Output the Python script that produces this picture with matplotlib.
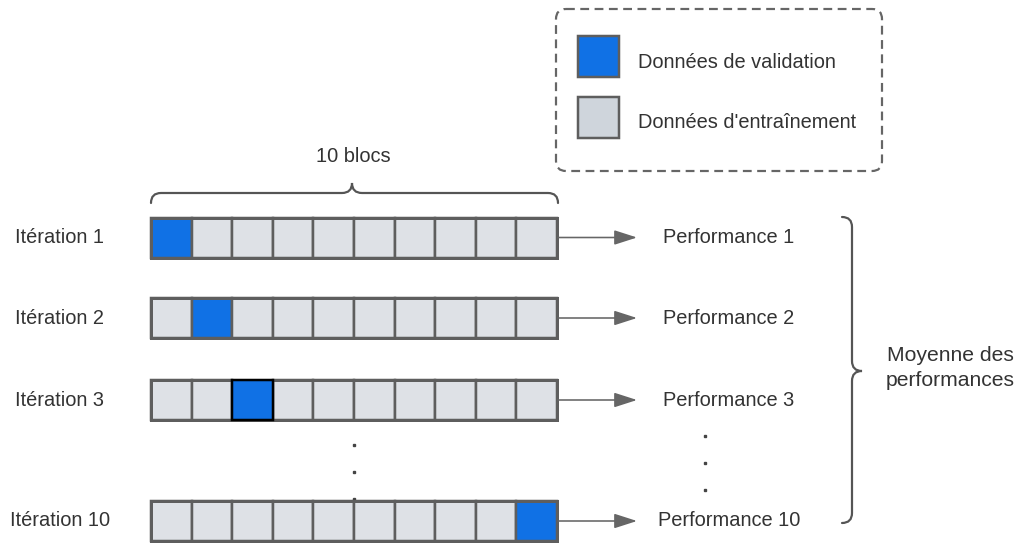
import matplotlib
matplotlib.use("Agg")
import matplotlib.pyplot as plt
from matplotlib.patches import Rectangle, FancyBboxPatch, PathPatch
from matplotlib.path import Path

plt.rcParams['font.family'] = ['Liberation Sans', 'DejaVu Sans']

# data
n_blocks = 10
iterations = [1, 2, 3, 10]
val_block = [0, 1, 2, 9]          # index of the validation block in each shown iteration
row_labels = ["Itération 1", "Itération 2", "Itération 3", "Itération 10"]
perf_labels = ["Performance 1", "Performance 2", "Performance 3", "Performance 10"]
legend_labels = ["Données de validation", "Données d'entraînement"]
top_label = "10 blocs"
side_label = "Moyenne des\nperformances"

blue = "#1071e5"
cell_gray = "#dee1e6"
leg_gray = "#cfd5dc"
edge = "#5e5e5e"
txt = "#333333"
px = 0.72  # one pixel in points at dpi 100

fig = plt.figure(figsize=(10.19, 5.45), dpi=100)
ax = fig.add_axes([0, 0, 1, 1])
ax.set_xlim(0, 1019)
ax.set_ylim(545, 0)
ax.axis("off")

bar_x0, bar_x1 = 151, 557
cell_w = (bar_x1 - bar_x0) / n_blocks
cell_h = 40
row_y = [237.5, 318, 400, 521]
fs = 14.4

for k, (yc, vb) in enumerate(zip(row_y, val_block)):
    for i in range(n_blocks):
        is_val = i == vb
        ec = "black" if (is_val and iterations[k] == 3) else edge
        ax.add_patch(Rectangle((bar_x0 + i * cell_w, yc - cell_h / 2), cell_w, cell_h,
                               facecolor=blue if is_val else cell_gray,
                               edgecolor=ec, lw=2.5 * px, zorder=3 if ec == "black" else 2))
    ax.add_patch(Rectangle((bar_x0, yc - cell_h / 2), bar_x1 - bar_x0, cell_h,
                           facecolor="none", edgecolor=edge, lw=3 * px, zorder=2.5))
    ax.text(60, yc, row_labels[k], ha="center", va="center", fontsize=fs, color=txt)
    ax.annotate("", xy=(637, yc), xytext=(bar_x1 + 1, yc),
                arrowprops=dict(arrowstyle="-|>,head_length=1.4,head_width=0.45",
                                color="#666666", lw=1.6 * px, shrinkA=0, shrinkB=0))
    ax.text(729, yc, perf_labels[k], ha="center", va="center", fontsize=fs, color=txt)

# ellipsis dots
for yd in [445, 472, 499]:
    ax.plot(354, yd, "s", ms=1.6, color="#444444")
for yd in [436, 463, 490]:
    ax.plot(705, yd, "s", ms=1.6, color="#444444")


def brace(pts):
    codes = [Path.MOVETO, Path.CURVE3, Path.CURVE3, Path.LINETO, Path.CURVE3, Path.CURVE3,
             Path.CURVE3, Path.CURVE3, Path.LINETO, Path.CURVE3, Path.CURVE3]
    ax.add_patch(PathPatch(Path(pts, codes), facecolor="none", edgecolor="#555555",
                           lw=2.2 * px, capstyle="round"))


# top brace over the blocks
x0, x1, xm = 151, 558, 352
ye, ym, yt, r = 203, 193, 183, 10
brace([(x0, ye), (x0, ym), (x0 + r, ym), (xm - r, ym), (xm, ym), (xm, yt),
       (xm, ym), (xm + r, ym), (x1 - r, ym), (x1, ym), (x1, ye)])
ax.text(353, 156, top_label, ha="center", va="center", fontsize=fs, color=txt)

# right brace over performances
y0, y1, ymid = 217, 523, 371
xe, xl, xt = 842, 852, 862
brace([(xe, y0), (xl, y0), (xl, y0 + r), (xl, ymid - r), (xl, ymid), (xt, ymid),
       (xl, ymid), (xl, ymid + r), (xl, y1 - r), (xl, y1), (xe, y1)])
ax.text(950, 368, side_label, ha="center", va="center", fontsize=15.2, color=txt,
        linespacing=1.35)

# legend box
ax.add_patch(FancyBboxPatch((556, 9), 326, 162, boxstyle="round,pad=0,rounding_size=10",
                            facecolor="white", edgecolor="#666666", lw=2.2 * px,
                            linestyle=(0, (4, 2.5))))
for yc, fc, lab in zip([56, 117], [blue, leg_gray], legend_labels):
    ax.add_patch(Rectangle((578, yc - 20.5), 41, 41, facecolor=fc, edgecolor=edge,
                           lw=2.5 * px, zorder=3))
    ax.text(638, yc + 6, lab, ha="left", va="center", fontsize=fs, color=txt)

fig.savefig("out.png", dpi=100, facecolor="white")
